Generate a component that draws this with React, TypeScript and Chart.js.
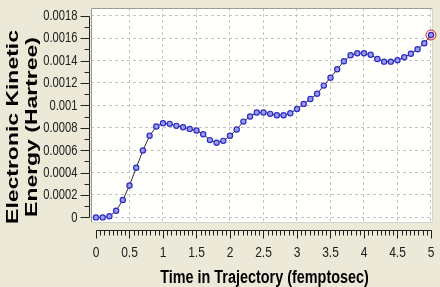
import React, { useEffect, useRef } from 'react';
import { Chart, registerables } from 'chart.js';

Chart.register(...registerables);

const times = [
  0, 0.1, 0.2, 0.3, 0.4, 0.5, 0.6, 0.7, 0.8, 0.9,
  1.0, 1.1, 1.2, 1.3, 1.4, 1.5, 1.6, 1.7, 1.8, 1.9,
  2.0, 2.1, 2.2, 2.3, 2.4, 2.5, 2.6, 2.7, 2.8, 2.9,
  3.0, 3.1, 3.2, 3.3, 3.4, 3.5, 3.6, 3.7, 3.8, 3.9,
  4.0, 4.1, 4.2, 4.3, 4.4, 4.5, 4.6, 4.7, 4.8, 4.9,
  5.0,
];

const energy = [
  0.0, 0.0, 0.00001, 0.00006, 0.000155, 0.000285, 0.000443, 0.000597, 0.000728, 0.000811,
  0.000841, 0.000835, 0.000817, 0.000805, 0.00079, 0.000775, 0.000742, 0.00069, 0.000666, 0.000683,
  0.000728, 0.000784, 0.000855, 0.0009, 0.000936, 0.000936, 0.000924, 0.000912, 0.000912, 0.00093,
  0.000968, 0.001013, 0.001056, 0.001104, 0.001176, 0.001247, 0.001322, 0.001393, 0.001447, 0.001465,
  0.001465, 0.001452, 0.001414, 0.00139, 0.00139, 0.001402, 0.001429, 0.001461, 0.0015, 0.001554,
  0.001628,
];

const xTickValues = [0, 0.5, 1, 1.5, 2, 2.5, 3, 3.5, 4, 4.5, 5];
const xTickLabels = ['0', '0.5', '1', '1.5', '2', '2.5', '3', '3.5', '4', '4.5', '5'];
const yTickValues = [0, 0.0002, 0.0004, 0.0006, 0.0008, 0.001, 0.0012, 0.0014, 0.0016, 0.0018];
const yTickLabels = ['0', '0.0002', '0.0004', '0.0006', '0.0008', '0.001', '0.0012', '0.0014', '0.0016', '0.0018'];

const xTitle = 'Time in Trajectory (femptosec)';
const yTitleLines = ['Electronic Kinetic', 'Energy (Hartree)'];

const FONT = '"Liberation Sans", Arial, sans-serif';

function drawScaledText(ctx: any, text: string, x: number, y: number, sx: number, sy: number, rot = 0) {
  ctx.save();
  ctx.translate(x, y);
  if (rot) ctx.rotate(rot);
  ctx.scale(sx, sy);
  ctx.fillText(text, 0, 0);
  ctx.restore();
}

const decorPlugin = {
  id: 'decor',
  beforeDraw(chart: any) {
    const { ctx, chartArea: a } = chart;
    ctx.save();
    ctx.fillStyle = '#ECE9D8';
    ctx.fillRect(0, 0, chart.width, chart.height);
    ctx.fillStyle = '#FFFFFB';
    ctx.fillRect(a.left, a.top, a.right - a.left, a.bottom - a.top);
    ctx.restore();
  },
  beforeDatasetsDraw(chart: any) {
    const { ctx, chartArea: a } = chart;
    ctx.save();
    ctx.lineWidth = 1;
    ctx.strokeStyle = '#9a9a9a';
    ctx.beginPath();
    ctx.moveTo(a.left + 0.5, a.bottom);
    ctx.lineTo(a.left + 0.5, a.top + 0.5);
    ctx.lineTo(a.right, a.top + 0.5);
    ctx.stroke();
    ctx.strokeStyle = '#d4d4d4';
    ctx.beginPath();
    ctx.moveTo(a.right - 0.5, a.top);
    ctx.lineTo(a.right - 0.5, a.bottom - 0.5);
    ctx.lineTo(a.left, a.bottom - 0.5);
    ctx.stroke();
    ctx.restore();
  },
  afterDraw(chart: any) {
    const { ctx, chartArea: a } = chart;
    const xs = chart.scales.x;
    const ys = chart.scales.y;
    ctx.save();
    ctx.strokeStyle = '#202020';
    ctx.lineWidth = 1;
    // x axis line + ticks
    const xLineY = a.bottom + 7.5;
    const x0 = Math.round(xs.getPixelForValue(0)) + 0.5;
    const x5 = Math.round(xs.getPixelForValue(5)) + 0.5;
    ctx.beginPath();
    ctx.moveTo(x0, xLineY);
    ctx.lineTo(x5, xLineY);
    for (let i = 0; i <= 80; i++) {
      const px = Math.round(xs.getPixelForValue(i / 16)) + 0.5;
      const len = i % 8 === 0 ? 8 : 5;
      ctx.moveTo(px, xLineY);
      ctx.lineTo(px, xLineY + len);
    }
    ctx.stroke();
    // y axis line + ticks
    const yLineX = a.left - 1.5;
    const yTop = Math.round(ys.getPixelForValue(0.0018)) + 0.5;
    const yBot = Math.round(ys.getPixelForValue(0)) + 0.5;
    ctx.beginPath();
    ctx.moveTo(yLineX, yTop);
    ctx.lineTo(yLineX, yBot);
    for (let i = 0; i <= 18; i++) {
      const py = Math.round(ys.getPixelForValue(i * 0.0001)) + 0.5;
      const len = i % 2 === 0 ? 9 : 5;
      ctx.moveTo(yLineX, py);
      ctx.lineTo(yLineX - len, py);
    }
    ctx.stroke();

    // tick labels (narrow look)
    ctx.fillStyle = '#202020';
    ctx.font = '15px ' + FONT;
    ctx.textAlign = 'center';
    ctx.textBaseline = 'middle';
    xTickValues.forEach((v, i) => {
      drawScaledText(ctx, xTickLabels[i], xs.getPixelForValue(v), a.bottom + 29.5, 0.8, 1);
    });
    ctx.font = '14px ' + FONT;
    ctx.textAlign = 'right';
    yTickValues.forEach((v, i) => {
      drawScaledText(ctx, yTickLabels[i], a.left - 13.5, ys.getPixelForValue(v) + 0.5, 0.8, 1);
    });

    // axis titles
    ctx.fillStyle = '#000000';
    ctx.font = 'bold 18px ' + FONT;
    ctx.textAlign = 'center';
    ctx.textBaseline = 'alphabetic';
    drawScaledText(ctx, xTitle, (a.left + a.right) / 2 + 2.5, 283, 0.8, 1);

    ctx.font = 'bold 17px ' + FONT;
    const cy = 127;
    const baselines = [17.5, 36.5];
    yTitleLines.forEach((line, i) => {
      drawScaledText(ctx, line, baselines[i], cy, 1.35, 1, -Math.PI / 2);
    });
    ctx.restore();
  },
};

export default function App() {
  const ref = useRef<HTMLCanvasElement | null>(null);
  useEffect(() => {
    if (!ref.current) return;
    const points = times.map((t, i) => ({ x: t, y: energy[i] }));
    const last = [points[points.length - 1]];
    const chart = new Chart(ref.current, {
      type: 'line',
      data: {
        datasets: [
          {
            data: points,
            borderColor: '#303030',
            borderWidth: 1,
            tension: 0,
            pointRadius: 2.6,
            pointBorderWidth: 1.2,
            pointBackgroundColor: '#9a9af0',
            pointBorderColor: '#2c2cc0',
            clip: false as any,
          },
          {
            data: last,
            showLine: false,
            pointRadius: 5,
            pointBorderWidth: 1,
            pointBackgroundColor: 'rgba(0,0,0,0)',
            pointBorderColor: '#e02020',
            clip: false as any,
          },
        ],
      },
      options: {
        animation: false,
        responsive: false,
        devicePixelRatio: 1,
        layout: { padding: { left: 0, right: 7, top: 8, bottom: 0 } },
        plugins: { legend: { display: false }, tooltip: { enabled: false } },
        scales: {
          x: {
            type: 'linear',
            min: -0.0746,
            max: 5.03,
            afterBuildTicks: (s: any) => {
              s.ticks = xTickValues.map((v) => ({ value: v }));
            },
            afterFit: (s: any) => {
              s.height = 64;
            },
            ticks: { display: false },
            grid: {
              drawTicks: false,
              color: (c: any) => (c.tick && c.tick.value === 0 ? 'rgba(0,0,0,0)' : '#c4c4c4'),
              lineWidth: 1,
            },
            border: { display: false, dash: [3, 3] },
            title: { display: false, text: xTitle },
          },
          y: {
            type: 'linear',
            min: -0.0000499,
            max: 0.0018686,
            afterBuildTicks: (s: any) => {
              s.ticks = yTickValues.map((v) => ({ value: v }));
            },
            afterFit: (s: any) => {
              s.width = 91;
            },
            ticks: { display: false },
            grid: {
              drawTicks: false,
              color: '#c4c4c4',
              lineWidth: 1,
            },
            border: { display: false, dash: [3, 3] },
            title: { display: false, text: yTitleLines },
          },
        },
      },
      plugins: [decorPlugin],
    });
    return () => chart.destroy();
  }, []);
  return (
    <div style={{ position: 'fixed', left: 0, top: 0, width: 440, height: 287 }}>
      <canvas ref={ref} width={440} height={287} style={{ display: 'block' }} />
    </div>
  );
}
